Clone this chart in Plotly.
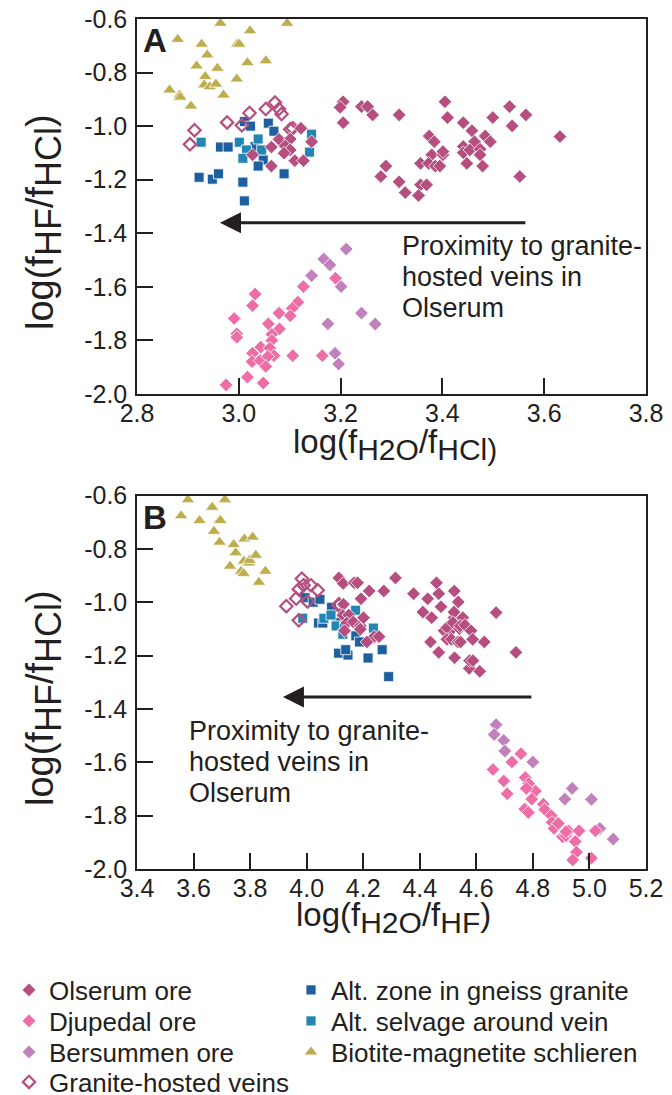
import plotly.graph_objects as go

# ---------------- data (x = log(fH2O/fHCl), y = log(fHF/fHCl)) ----------------
olserum_x = [3.122, 3.079, 3.101, 3.064, 3.091, 3.101, 3.089, 3.143, 3.027, 3.110, 3.127, 3.064,
             3.205, 3.199, 3.205, 3.241, 3.253, 3.263, 3.315, 3.405, 3.410, 3.441, 3.458, 3.499,
             3.532, 3.564, 3.537, 3.631, 3.374, 3.384, 3.463, 3.484, 3.494, 3.379, 3.401, 3.401,
             3.357, 3.373, 3.386, 3.395, 3.441, 3.441, 3.454, 3.474, 3.474, 3.448, 3.479, 3.289,
             3.279, 3.315, 3.327, 3.357, 3.369, 3.353, 3.552]
olserum_y = [-1.008, -1.049, -1.048, -1.078, -1.074, -1.089, -1.101, -1.058, -1.107, -1.129, -1.129, -1.149,
             -0.909, -0.930, -0.987, -0.927, -0.927, -0.958, -0.958, -0.909, -0.968, -0.987, -1.017, -0.968,
             -0.927, -0.958, -0.999, -1.039, -1.037, -1.058, -1.058, -1.037, -1.058, -1.107, -1.107, -1.095,
             -1.139, -1.139, -1.149, -1.149, -1.076, -1.099, -1.089, -1.086, -1.107, -1.139, -1.149, -1.149,
             -1.188, -1.208, -1.248, -1.219, -1.219, -1.259, -1.188]

djupedal_x = [3.190, 3.127, 3.116, 3.105, 3.101, 3.079, 3.032, 3.027, 2.991, 2.996, 2.996, 3.058,
              3.080, 3.065, 3.065, 3.043, 3.027, 3.026, 3.042, 3.061, 3.069, 3.057, 3.053, 3.106,
              3.164, 3.017, 3.048, 2.975]
djupedal_y = [-1.568, -1.599, -1.657, -1.680, -1.708, -1.698, -1.627, -1.670, -1.718, -1.775, -1.788, -1.738,
              -1.757, -1.777, -1.800, -1.825, -1.848, -1.879, -1.875, -1.829, -1.857, -1.860, -1.897, -1.857,
              -1.857, -1.937, -1.959, -1.966]

bersummen_x = [3.211, 3.167, 3.179, 3.143, 3.201, 3.241, 3.268, 3.175, 3.189, 3.196]
bersummen_y = [-1.459, -1.496, -1.518, -1.558, -1.599, -1.698, -1.739, -1.738, -1.848, -1.888]

granite_x = [2.913, 2.904, 2.977, 3.006, 3.021, 3.053, 3.071, 3.079, 3.084, 3.106, 3.101]
granite_y = [-1.015, -1.068, -0.986, -0.997, -0.951, -0.936, -0.912, -0.936, -0.955, -1.008, -1.012]

altzone_x = [3.011, 3.023, 3.058, 3.069, 2.964, 2.979, 3.032, 3.048, 3.038, 2.922, 2.948, 2.960,
             3.008, 3.089, 3.011]
altzone_y = [-0.983, -1.000, -0.989, -1.019, -1.078, -1.078, -1.076, -1.126, -1.149, -1.191, -1.198, -1.178,
             -1.209, -1.178, -1.279]

selvage_x = [2.926, 3.001, 3.038, 3.015, 3.045, 3.008, 3.143, 3.139]
selvage_y = [-1.060, -1.060, -1.048, -1.089, -1.089, -1.120, -1.030, -1.097]

biotite_x = [2.964, 3.095, 2.880, 3.022, 2.927, 2.997, 3.001, 2.938, 2.917, 2.958, 3.017, 3.053,
             2.934, 2.932, 2.943, 2.955, 2.996, 2.864, 2.884, 2.885, 2.970, 2.906]
biotite_y = [-0.616, -0.616, -0.676, -0.644, -0.694, -0.694, -0.694, -0.734, -0.775, -0.784, -0.763, -0.756,
             -0.815, -0.846, -0.853, -0.843, -0.824, -0.865, -0.884, -0.892, -0.884, -0.925]

xa_ticks = [2.8, 3.0, 3.2, 3.4, 3.6, 3.8]
xb_ticks = [3.4, 3.6, 3.8, 4.0, 4.2, 4.4, 4.6, 4.8, 5.0, 5.2]
y_ticks = [-0.6, -0.8, -1.0, -1.2, -1.4, -1.6, -1.8, -2.0]

# ---------------- layout helpers ----------------
W, H = 672, 1095
def PX(p):
    return p / W
def PY(p):
    return 1 - p / H

INK = "#231f20"
FONT = "Liberation Sans, Arial, Helvetica, sans-serif"
WL = dict(color="white", width=0.8)

groups = [
    dict(name="Alt. zone in gneiss granite", x=altzone_x, y=altzone_y, symbol="square", size=10,
         color="#1e5fa0", lg="legend5", line=WL),
    dict(name="Alt. selvage around vein", x=selvage_x, y=selvage_y, symbol="square", size=10,
         color="#2485b3", lg="legend6", line=WL),
    dict(name="Biotite-magnetite schlieren", x=biotite_x, y=biotite_y, symbol="triangle-up", size=12,
         color="#bead4d", lg="legend7", line=WL),
    dict(name="Bersummen ore", x=bersummen_x, y=bersummen_y, symbol="diamond", size=10.5,
         color="#c081bd", lg="legend3", line=WL),
    dict(name="Djupedal ore", x=djupedal_x, y=djupedal_y, symbol="diamond", size=10.5,
         color="#ed6ea6", lg="legend2", line=WL),
    dict(name="Granite-hosted veins", x=granite_x, y=granite_y, symbol="diamond-open", size=9.5,
         color="#b64f80", lg="legend4", line=dict(color="#b64f80", width=2.2)),
    dict(name="Olserum ore", x=olserum_x, y=olserum_y, symbol="diamond", size=10.5,
         color="#b64f80", lg="legend", line=WL),
]

fig = go.Figure()
for g in groups:
    xb = [round(a - b, 3) for a, b in zip(g["x"], g["y"])]  # log(fH2O/fHF) = log(fH2O/fHCl) - log(fHF/fHCl)
    mk = dict(symbol=g["symbol"], size=g["size"], color=g["color"], line=g["line"])
    fig.add_trace(go.Scatter(x=g["x"], y=g["y"], mode="markers", marker=mk, name=g["name"],
                             legend=g["lg"], xaxis="x", yaxis="y", cliponaxis=False))
    fig.add_trace(go.Scatter(x=xb, y=g["y"], mode="markers", marker=mk, name=g["name"],
                             showlegend=False, xaxis="x2", yaxis="y2", cliponaxis=False))

axis_common = dict(showline=True, linecolor=INK, linewidth=1.5, mirror=True, ticks="inside",
                   ticklen=16, tickwidth=1.5, tickcolor=INK, showgrid=False, zeroline=False,
                   tickfont=dict(size=25, color=INK, family=FONT), automargin=False)

def fmt(v):
    return f"{v:.1f}"

x_dom = [PX(137), PX(646)]
fig.update_layout(
    width=W, height=H, margin=dict(l=0, r=0, t=0, b=0, autoexpand=False),
    paper_bgcolor="white", plot_bgcolor="white",
    font=dict(family=FONT, color=INK),
    xaxis=dict(domain=x_dom, range=[2.8, 3.8], anchor="y", tickvals=xa_ticks, ticklabelstandoff=-4,
               ticktext=[fmt(v) for v in xa_ticks], **axis_common),
    yaxis=dict(domain=[PY(394), PY(19)], range=[-2.0, -0.6], anchor="x", tickvals=y_ticks,
               ticklabelstandoff=3, ticktext=[fmt(v) for v in y_ticks], **axis_common),
    xaxis2=dict(domain=x_dom, range=[3.4, 5.2], anchor="y2", tickvals=xb_ticks, ticklabelstandoff=-4,
                ticktext=[fmt(v) for v in xb_ticks], **axis_common),
    yaxis2=dict(domain=[PY(869), PY(495.5)], range=[-2.0, -0.6], anchor="x2", tickvals=y_ticks,
                ticklabelstandoff=3, ticktext=[fmt(v) for v in y_ticks], **axis_common),
)

# separate one-item legends placed like the two-column key
leg_font = dict(size=26, color=INK, family=FONT)
leg_pos = {"legend": (9, 990), "legend2": (9, 1021), "legend3": (9, 1052), "legend4": (9, 1082),
           "legend5": (291, 990), "legend6": (291, 1021), "legend7": (291, 1052)}
for k, (lx, ly) in leg_pos.items():
    fig.update_layout({k: dict(x=PX(lx), y=PY(ly), xanchor="left", yanchor="middle",
                               bgcolor="rgba(0,0,0,0)", font=leg_font, itemwidth=30)})

ann = []
# axis titles
def sub(t, s):
    return f'<sub><span style="font-size:{s}px">{t}</span></sub>'

ytitle = 'log(f' + sub('HF', 36) + '/f' + sub('HCl', 36) + ')'
xtitle_a = 'log(f' + sub('H2O', 30) + '/f' + sub('HCl)', 30)
xtitle_b = 'log(f' + sub('H2O', 30) + '/f' + sub('HF', 30) + ')'
yfont = dict(size=38, color=INK, family=FONT)
xfont = dict(size=33, color=INK, family=FONT)
ann += [
    dict(x=PX(44), y=PY(222), xref="paper", yref="paper", text=ytitle, textangle=-90, showarrow=False,
         font=yfont, xanchor="center", yanchor="middle"),
    dict(x=PX(44), y=PY(698), xref="paper", yref="paper", text=ytitle, textangle=-90, showarrow=False,
         font=yfont, xanchor="center", yanchor="middle"),
    dict(x=PX(395), y=PY(444), xref="paper", yref="paper", text=xtitle_a, showarrow=False,
         font=xfont, xanchor="center", yanchor="middle"),
    dict(x=PX(393), y=PY(917), xref="paper", yref="paper", text=xtitle_b, showarrow=False,
         font=xfont, xanchor="center", yanchor="middle"),
]
# panel letters
for letter, yy in (("A", 40), ("B", 517)):
    ann.append(dict(x=PX(141), y=PY(yy), xref="paper", yref="paper", text=f"<b>{letter}</b>",
                    showarrow=False, font=dict(size=33, color=INK, family=FONT),
                    xanchor="left", yanchor="middle"))

# arrows
arrow_a = dict(tip=2.963, tail=3.566, y=-1.361)
arrow_b = dict(tip=3.916, tail=4.800, y=-1.355)
for arr, xr, yr in ((arrow_a, "x", "y"), (arrow_b, "x2", "y2")):
    ann.append(dict(x=arr["tip"], y=arr["y"], ax=arr["tail"], ay=arr["y"], xref=xr, yref=yr,
                    axref=xr, ayref=yr, text="", showarrow=True, arrowhead=2, arrowsize=1.4,
                    arrowwidth=3, arrowcolor=INK, standoff=0))

# explanatory text
lines = ["Proximity to granite-", "hosted veins in", "Olserum"]
for (tx, ty0) in ((400, 246), (187, 731)):
    for i, t in enumerate(lines):
        ann.append(dict(x=PX(tx), y=PY(ty0 + 31 * i), xref="paper", yref="paper", text=t,
                        showarrow=False, font=dict(size=27, color=INK, family=FONT),
                        xanchor="left", yanchor="middle", align="left"))

fig.update_layout(annotations=ann)
fig.write_html("out.html")
